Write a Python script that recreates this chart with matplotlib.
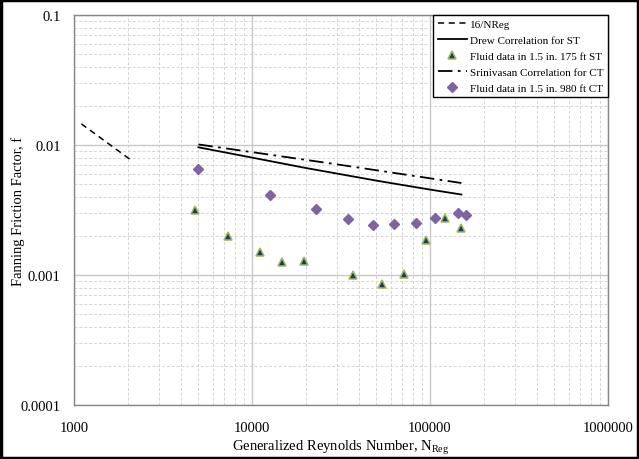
import matplotlib
matplotlib.use("Agg")
import matplotlib.pyplot as plt
from matplotlib.ticker import LogLocator, FixedLocator, FixedFormatter, NullFormatter

plt.rcParams['font.family'] = ['Liberation Serif', 'DejaVu Serif']
plt.rcParams['mathtext.fontset'] = 'custom'
plt.rcParams['mathtext.rm'] = 'Liberation Serif'

# Laminar line 16/NReg
lam_re = [1100, 2100]
lam_f = [16 / 1100, 16 / 2100]

# Drew correlation for straight tubing
drew_re = [5000, 10000, 20000, 50000, 100000, 150000]
drew_f = [0.0096, 0.0080, 0.00666, 0.00532, 0.00454, 0.00416]

# Srinivasan correlation for coiled tubing
srin_re = [5000, 30000, 150000]
srin_f = [0.0101, 0.0071, 0.0051]

# Fluid data, 1.5 in. 175 ft straight tubing
st_re = [4790, 7360, 11150, 14700, 19600, 37100, 53600, 71800, 95300, 121000, 148600]
st_f = [0.00315, 0.00199, 0.00150, 0.00127, 0.00129, 0.00100, 0.00086, 0.00101,
        0.00185, 0.00274, 0.00230]

# Fluid data, 1.5 in. 980 ft coiled tubing
ct_re = [4950, 12600, 22900, 34800, 47600, 63000, 83200, 106700, 143200, 158900]
ct_f = [0.00658, 0.00410, 0.00320, 0.00268, 0.00241, 0.00248, 0.00252, 0.00274,
        0.00301, 0.00291]

x_ticks = [1000, 10000, 100000, 1000000]
x_labels = ['1000', '10000', '100000', '1000000']
y_ticks = [0.0001, 0.001, 0.01, 0.1]
y_labels = ['0.0001', '0.001', '0.01', '0.1']

fig = plt.figure(figsize=(6.39, 4.60), dpi=100)
ax = fig.add_axes([74 / 639, 1 - 406 / 460, (608 - 74) / 639, (406 - 16) / 460])

ax.plot(lam_re, lam_f, color='black', lw=1.1, ls=(0, (4, 3)), label='16/NReg')
ax.plot(drew_re, drew_f, color='black', lw=1.3, label='Drew Correlation for ST')
ax.plot(st_re, st_f, ls='none', marker='^', ms=6.3, mfc='#1f3864', mec='#9bbb59',
        mew=1.1, label='Fluid data in 1.5 in. 175 ft ST')
ax.plot(srin_re, srin_f, color='black', lw=1.3, ls=(0, (8, 3, 1.5, 3)),
        label='Srinivasan Correlation for CT')
ax.plot(ct_re, ct_f, ls='none', marker='D', ms=5.3, mfc='#8064a2', mec='#8064a2',
        label='Fluid data in 1.5 in. 980 ft CT')

ax.set_xscale('log')
ax.set_yscale('log')
ax.set_xlim(1000, 1000000)
ax.set_ylim(0.0001, 0.1)

ax.xaxis.set_major_locator(FixedLocator(x_ticks))
ax.xaxis.set_major_formatter(FixedFormatter(x_labels))
ax.yaxis.set_major_locator(FixedLocator(y_ticks))
ax.yaxis.set_major_formatter(FixedFormatter(y_labels))
ax.xaxis.set_minor_locator(LogLocator(base=10, subs=range(2, 10)))
ax.yaxis.set_minor_locator(LogLocator(base=10, subs=range(2, 10)))
ax.xaxis.set_minor_formatter(NullFormatter())
ax.yaxis.set_minor_formatter(NullFormatter())

ax.grid(which='major', color='#c8c8c8', lw=1.0, ls='-')
ax.grid(which='minor', color='#d4d4d4', lw=0.7, ls=(0, (3, 2)))
ax.set_axisbelow(True)
ax.tick_params(which='both', length=0)
ax.tick_params(axis='x', which='major', pad=11.5, labelsize=10.5)
ax.tick_params(axis='y', which='major', pad=9.5, labelsize=10.5)
for s in ax.spines.values():
    s.set_color('#868686')
    s.set_linewidth(1.0)

ax.set_xlabel('Generalized Reynolds Number, N$_{\\mathrm{Reg}}$', fontsize=10.5)
ax.xaxis.set_label_coords(0.5, -(438 - 406) / 390)
ax.set_ylabel('Fanning Friction Factor, f', fontsize=10.5)
ax.yaxis.set_label_coords(-(74 - 25) / 534, 0.5)

leg = ax.legend(loc='upper right', fontsize=8, frameon=True, fancybox=False,
                edgecolor='black', borderaxespad=0.0, handlelength=2.6,
                labelspacing=0.55, borderpad=0.4, handletextpad=0.3)
leg.get_frame().set_linewidth(1.0)
leg.get_frame().set_facecolor('white')
leg.get_frame().set_alpha(1)

# Black outer frame around the figure
fig.patches.append(plt.Rectangle((0.002, 0.003), 0.996, 0.994, transform=fig.transFigure,
                                 fill=False, edgecolor='black', lw=2.5))

fig.savefig('out.png', dpi=100)
